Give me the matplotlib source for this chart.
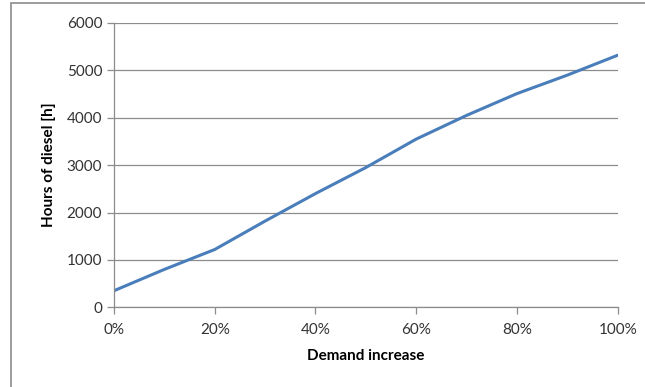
import matplotlib.pyplot as plt
from matplotlib.patches import Rectangle

# demand increase (%) vs hours of diesel
demand = [0, 10, 20, 30, 40, 50, 60, 70, 80, 90, 100]
hours = [350, 800, 1220, 1820, 2400, 2950, 3550, 4050, 4510, 4900, 5320]
xticks = [0, 20, 40, 60, 80, 100]
xticklabels = ['0%', '20%', '40%', '60%', '80%', '100%']
yticks = [0, 1000, 2000, 3000, 4000, 5000, 6000]

plt.rcParams['font.family'] = ['Lato', 'DejaVu Sans']
grey = '#8c8c8c'

fig = plt.figure(figsize=(6.45, 3.87), dpi=100)
ax = fig.add_axes([114 / 645, 1 - 307.3 / 387, 503.7 / 645, 284.3 / 387])

# outer chart frame (partly cut off like the original)
fig.patches.append(Rectangle((11 / 645, -0.2), 1.2, 1.2 - 3 / 387,
                             transform=fig.transFigure, fill=False,
                             edgecolor=grey, linewidth=1.2))

ax.plot(demand, hours, color='#4a7ebb', linewidth=2.2, solid_capstyle='round')

ax.set_xlim(0, 100)
ax.set_ylim(0, 6000)
ax.set_xticks(xticks)
ax.set_xticklabels(xticklabels)
ax.set_yticks(yticks)
ax.grid(axis='y', color=grey, linewidth=0.9)
ax.set_axisbelow(True)

for side in ['top', 'right']:
    ax.spines[side].set_visible(False)
for side in ['left', 'bottom']:
    ax.spines[side].set_color(grey)
    ax.spines[side].set_linewidth(0.9)
ax.tick_params(axis='both', colors=grey, labelcolor='#333333', labelsize=11,
               length=5, width=0.9)
ax.tick_params(axis='x', pad=6)

ax.set_xlabel('Demand increase', fontsize=11, fontweight='bold', labelpad=9)
ax.set_ylabel('Hours of diesel [h]', fontsize=11, fontweight='bold', labelpad=8)

fig.savefig('out.png', dpi=100)
